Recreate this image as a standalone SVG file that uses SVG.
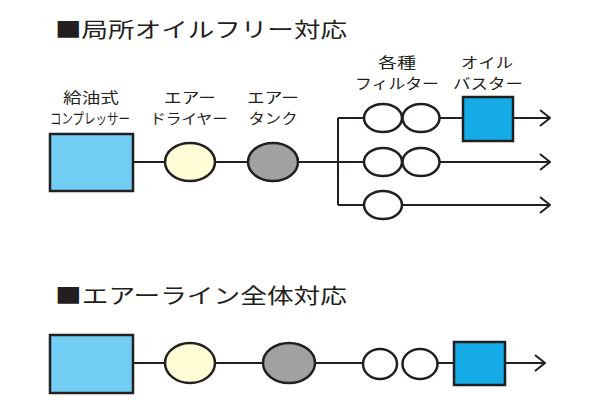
<svg xmlns="http://www.w3.org/2000/svg" width="592" height="415" viewBox="0 0 592 415">
<defs>
<style>
.t{font-family:"Noto Sans CJK JP","Noto Sans",sans-serif;fill:#231f20}
.h{font-size:21px}
.l{font-size:14.5px;text-anchor:middle}
.s{stroke:#231f20;stroke-width:2.5}
.ln{stroke:#231f20;stroke-width:2;fill:none}
.comp{fill:#72cdf4}
.bust{fill:#15abe6}
.dry{fill:#fffcd6}
.tank{fill:#a1a1a3}
.flt{fill:#fff}
</style>
<marker id="ar" viewBox="0 0 12 18" refX="11" refY="9" markerWidth="12" markerHeight="18" markerUnits="userSpaceOnUse" orient="auto">
<path d="M1,1 L11,9 L1,17" fill="none" stroke="#231f20" stroke-width="2"/>
</marker>
</defs>
<rect width="592" height="415" fill="#fff"/>
<text class="t h" x="55" y="37" textLength="292" lengthAdjust="spacingAndGlyphs">■局所オイルフリー対応</text>
<text class="t h" x="55" y="303" textLength="292" lengthAdjust="spacingAndGlyphs">■エアーライン全体対応</text>
<g id="connectors">
<path class="ln" d="M133,162 H165 M215,162 H248 M298,162 H338 M338,118 V205 M338,118 H364 M402,118 H403 M440,118 H463"/>
<path class="ln" d="M513,118 H550" marker-end="url(#ar)"/>
<path class="ln" d="M338,162 H364 M440,162 H550" marker-end="url(#ar)"/>
<path class="ln" d="M402,162 H403"/>
<path class="ln" d="M338,205 H364 M402,205 H550" marker-end="url(#ar)"/>
<path class="ln" d="M133,363 H165 M215,363 H263 M315,363 H363 M438,363 H454"/>
<path class="ln" d="M505,363 H545" marker-end="url(#ar)"/>
</g>
<g id="compressor1">
<text class="t l" x="91" y="103" textLength="56" lengthAdjust="spacingAndGlyphs">給油式</text>
<text class="t l" x="90" y="124" textLength="80" lengthAdjust="spacingAndGlyphs">コンプレッサー</text>
<rect class="s comp" x="50" y="134" width="83" height="57"/>
</g>
<g id="dryer1">
<text class="t l" x="190" y="103" textLength="52" lengthAdjust="spacingAndGlyphs">エアー</text>
<text class="t l" x="189" y="124" textLength="78" lengthAdjust="spacingAndGlyphs">ドライヤー</text>
<ellipse class="s dry" cx="190" cy="162" rx="25" ry="19"/>
</g>
<g id="tank1">
<text class="t l" x="273" y="103" textLength="52" lengthAdjust="spacingAndGlyphs">エアー</text>
<text class="t l" x="273" y="124" textLength="49" lengthAdjust="spacingAndGlyphs">タンク</text>
<ellipse class="s tank" cx="273" cy="162" rx="25" ry="19"/>
</g>
<g id="filters">
<text class="t l" x="397" y="68" textLength="38" lengthAdjust="spacingAndGlyphs">各種</text>
<text class="t l" x="397" y="89" textLength="84" lengthAdjust="spacingAndGlyphs">フィルター</text>
<ellipse class="s flt" cx="383" cy="118" rx="19" ry="14"/>
<ellipse class="s flt" cx="421" cy="118" rx="18.5" ry="14"/>
<ellipse class="s flt" cx="383" cy="162" rx="19" ry="14"/>
<ellipse class="s flt" cx="421" cy="162" rx="18.5" ry="14"/>
<ellipse class="s flt" cx="383" cy="205" rx="19" ry="14"/>
</g>
<g id="buster1">
<text class="t l" x="487" y="68" textLength="52" lengthAdjust="spacingAndGlyphs">オイル</text>
<text class="t l" x="488" y="89" textLength="70" lengthAdjust="spacingAndGlyphs">バスター</text>
<rect class="s bust" x="463" y="97" width="50" height="44"/>
</g>
<g id="compressor2">
<rect class="s comp" x="50" y="335" width="83" height="58"/>
</g>
<g id="dryer2">
<ellipse class="s dry" cx="190" cy="363" rx="25" ry="20"/>
</g>
<g id="tank2">
<ellipse class="s tank" cx="289" cy="363" rx="26" ry="20"/>
</g>
<g id="filters2">
<ellipse class="s flt" cx="380" cy="364" rx="17" ry="15"/>
<ellipse class="s flt" cx="420" cy="364" rx="17.5" ry="15"/>
</g>
<g id="buster2">
<rect class="s bust" x="454" y="342" width="51" height="43"/>
</g>
</svg>
